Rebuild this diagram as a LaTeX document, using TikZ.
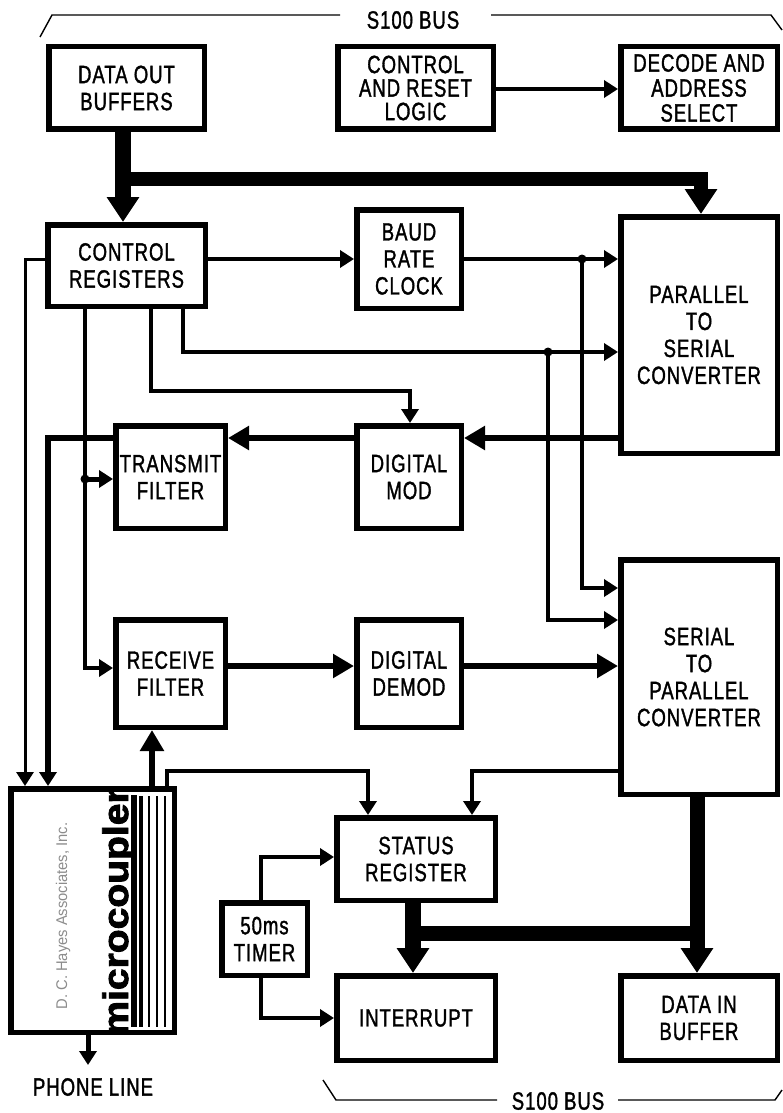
\documentclass[tikz,border=0pt]{standalone}
\usepackage{fontspec}
\usetikzlibrary{arrows.meta}
\setmainfont[FakeStretch=0.74,LetterSpace=4,FakeBold=1.4]{Liberation Sans}
\newfontfamily\brandfont[FakeStretch=1.1,FakeBold=2.5]{Liberation Sans Bold}
\newfontfamily\makerfont[FakeStretch=0.95]{Liberation Sans}
\tikzset{
  blockbox/.style={draw=black,line width=5.5pt,inner sep=0pt,align=center,font=\fontsize{25}{27}\selectfont,text=black},
  caption/.style={inner sep=0pt,align=center,font=\fontsize{25}{27}\selectfont,text=black},
  thinline/.style={draw=black,line width=3.5pt,line join=miter},
  medline/.style={draw=black,line width=6.5pt,line join=miter},
  busline/.style={draw=black,line width=15pt,line join=miter},
  bracket/.style={draw=black,line width=1.4pt},
  thinhead/.style={-{Triangle[length=14pt,width=17pt]}},
  medhead/.style={-{Triangle[length=21pt,width=23pt]}},
  bushead/.style={-{Triangle[length=25pt,width=31pt]}},
  junction/.style={circle,fill=black,inner sep=0pt,minimum size=9pt}
}
% name, x1, y1, x2, y2, text (outer pixel bounds)
\newcommand{\blockat}[6]{%
  \node[blockbox,minimum width={#4-#2-5.5},minimum height={#5-#3-5.5}]
    (#1) at ({(#2+#4)/2},{(#3+#5)/2}) {#6};}
\begin{document}
\begin{tikzpicture}[x=1pt,y=-1pt]
\useasboundingbox (0,0) rectangle (782,1113);
% blocks
\blockat{dataout}{46}{44}{207}{132}{\raisebox{-2pt}{DATA OUT}\\\raisebox{-2pt}{BUFFERS}}
\blockat{reset}{335}{44}{496}{132}{CONTROL\\[-3.5pt]AND RESET\\[-3.5pt]LOGIC}
\blockat{decode}{618}{44}{780}{132}{DECODE AND\\[-2pt]ADDRESS\\[-2pt]SELECT}
\blockat{ctrl}{45}{222}{208}{309}{CONTROL\\REGISTERS}
\blockat{baud}{354}{207}{464}{311}{BAUD\\RATE\\CLOCK}
\blockat{p2s}{618}{214}{780}{456}{PARALLEL\\TO\\SERIAL\\CONVERTER}
\blockat{txf}{113}{423}{228}{531}{TRANSMIT\\FILTER}
\blockat{dmod}{354}{423}{464}{531}{DIGITAL\\MOD}
\blockat{rxf}{113}{617}{228}{730}{RECEIVE\\FILTER}
\blockat{demod}{354}{617}{464}{730}{DIGITAL\\DEMOD}
\blockat{s2p}{618}{557}{780}{797}{SERIAL\\TO\\PARALLEL\\CONVERTER}
\blockat{status}{334}{815}{498}{903}{STATUS\\REGISTER}
\blockat{timer}{219}{900}{310}{978}{50ms\\TIMER}
\blockat{irq}{334}{973}{498}{1063}{INTERRUPT}
\blockat{datain}{618}{973}{780}{1063}{DATA IN\\BUFFER}
\blockat{micro}{8}{786}{177}{1035}{}
% microcoupler artwork
\node[rotate=90,anchor=base,inner sep=0pt,font={\fontsize{35.5}{40}\brandfont}] (brand) at (128,912) {microcoupler};
\node[rotate=90,anchor=base,inner sep=0pt,text=black!45,font={\fontsize{15.5}{18}\makerfont}] (maker) at (67,916) {D. C. Hayes Associates, Inc.};
\draw[line width=6pt] (134,795) -- (134,1027);
\draw[line width=4pt] (141,796) -- (141,1027);
\draw[line width=2.6pt] (149,796) -- (149,1027);
\draw[line width=2pt] (157,796) -- (157,1027);
\draw[line width=1.5pt] (165,796) -- (165,1027);
% captions
\node[caption] (phone) at (93,1087) {PHONE LINE};
\node[caption] (bustop) at (413,20) {S100 BUS};
\node[caption] (busbot) at (558,1101) {S100 BUS};
% brackets
\coordinate (tl) at (40,37); \coordinate (tla) at (52,15);
\coordinate (tr) at (782,30); \coordinate (tra) at (771,15);
\coordinate (bl) at (323,1080); \coordinate (bla) at (336,1100);
\coordinate (br) at (782,1090); \coordinate (bra) at (775,1100);
\draw[bracket] (tl) -- (tla) -- (340,15);
\draw[bracket] (491,15) -- (tra) -- (tr);
\draw[bracket] (bl) -- (bla) -- (497,1100);
\draw[bracket] (618,1100) -- (bra) -- (br);
% bus lines
\draw[busline,line width=16pt,bushead] (dataout.south -| 123,0) -- (ctrl.north -| 123,0);
\draw[busline,line width=14.5pt,bushead] (123,179) -| (p2s.north -| 701,0);
\draw[busline,line width=16pt,bushead] (status.south -| 413,0) -- (irq.north -| 413,0);
\draw[busline] (413,933) -- (697,933);
\draw[busline,bushead] (s2p.south -| 697,0) -- (datain.north -| 697,0);
% medium signal lines
\draw[medline,line width=4pt,thinhead] (reset.east |- 0,89) -- (decode.west |- 0,89);
\draw[medline,medhead] (p2s.west |- 0,438) -- (dmod.east |- 0,438);
\draw[medline,medhead] (dmod.west |- 0,438) -- (txf.east |- 0,438);
\draw[medline] (txf.west |- 0,438) -| (48,760);
\draw[medline,thinhead] (48,438) -- (micro.north -| 48,0);
\draw[medline,medhead] (rxf.east |- 0,666) -- (demod.west |- 0,666);
\draw[medline,medhead] (demod.east |- 0,666) -- (s2p.west |- 0,666);
\draw[medline,medhead] (micro.north -| 152,0) -- (rxf.south -| 152,0);
% thin control lines
\draw[thinline,line width=3pt,thinhead] (ctrl.west |- 0,259) -| (micro.north -| 25,0);
\draw[thinline,thinhead] (ctrl.east |- 0,259) -- (baud.west |- 0,259);
\draw[thinline,thinhead] (baud.east |- 0,259) -- (p2s.west |- 0,259);
\node[junction] (j1) at (582,259) {};
\draw[thinline,thinhead] (j1.center) |- (s2p.west |- 0,588);
\draw[thinline,thinhead] (ctrl.south -| 183,0) |- (p2s.west |- 0,352);
\node[junction] (j2) at (548,352) {};
\draw[thinline,thinhead] (j2.center) |- (s2p.west |- 0,620);
\draw[thinline,thinhead] (ctrl.south -| 151,0) |- (410,391) -- (dmod.north -| 410,0);
\draw[thinline,thinhead] (ctrl.south -| 85,0) |- (rxf.west |- 0,668);
\node[junction] (j3) at (85,479) {};
\draw[medline,line width=5pt,thinhead] (j3.center) -- (txf.west |- 0,479);
\draw[thinline,thinhead] (micro.north -| 167,0) |- (368,771) -- (status.north -| 368,0);
\draw[thinline,thinhead] (s2p.west |- 0,771) -| (status.north -| 472,0);
\draw[thinline,line width=4pt,thinhead] (timer.north -| 260.6,0) |- (status.west |- 0,857);
\draw[thinline,line width=4pt,thinhead] (timer.south -| 260.6,0) |- (irq.west |- 0,1018);
\draw[medline,line width=5pt,thinhead] (micro.south -| 88,0) -- (88,1065);
\end{tikzpicture}
\end{document}
